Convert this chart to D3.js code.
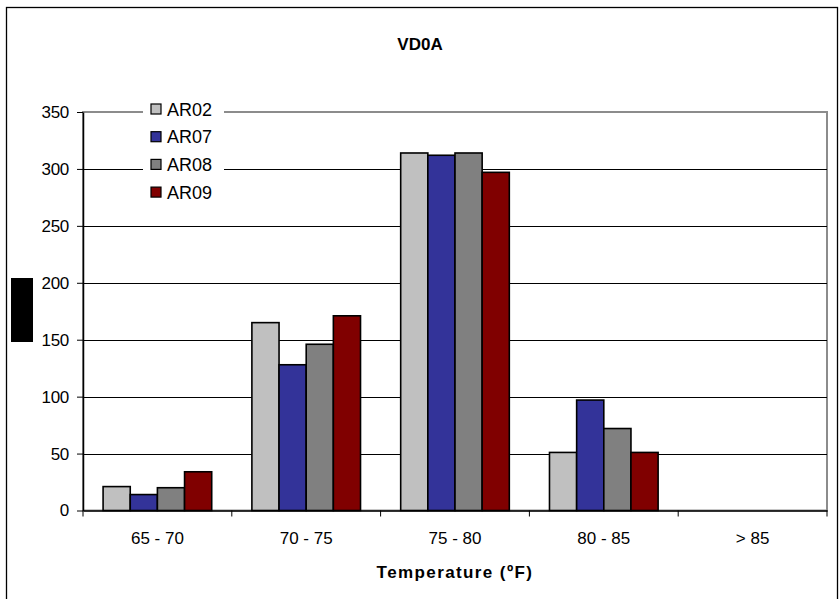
<!DOCTYPE html>
<html>
<head>
<meta charset="utf-8">
<script src="https://cdn.jsdelivr.net/npm/d3@7/dist/d3.min.js"></script>
<style>
  html, body { margin: 0; padding: 0; background: #fff; }
  svg { display: block; font-family: "Liberation Sans", Arial, sans-serif; }
</style>
</head>
<body>
<svg id="chart" width="840" height="599"></svg>
<script>
// Temperature bins (x-axis categories)
const categories = ["65 - 70", "70 - 75", "75 - 80", "80 - 85", "> 85"];
// Sensor series
const seriesNames = ["AR02", "AR07", "AR08", "AR09"];
const seriesColors = ["#C0C0C0", "#333399", "#808080", "#800000"];
// Counts per bin for each sensor
const AR02 = [21, 165, 314, 51, 0];
const AR07 = [14, 128, 312, 97, 0];
const AR08 = [20, 146, 314, 72, 0];
const AR09 = [34, 171, 297, 51, 0];
const yTicks = [0, 50, 100, 150, 200, 250, 300, 350];

const seriesValues = [AR02, AR07, AR08, AR09];
const rows = categories.map((c, i) => ({
  cat: c,
  vals: seriesNames.map((s, j) => ({ key: s, value: seriesValues[j][i], color: seriesColors[j] }))
}));

const svg = d3.select("#chart");
const plot = { left: 83, right: 827, top: 112, bottom: 510.5 };

// outer chart frame
svg.append("rect")
  .attr("x", 6.5).attr("y", 7.5).attr("width", 831).attr("height", 600)
  .attr("fill", "#fff").attr("stroke", "#000").attr("stroke-width", 1.3);

const x0 = d3.scaleBand().domain(categories).range([plot.left, plot.right]).padding(0);
const bw = x0.bandwidth();
const x1 = d3.scaleBand().domain(seriesNames).range([bw * 0.135, bw * 0.865]).padding(0);
const y = d3.scaleLinear().domain([0, 350]).range([plot.bottom, plot.top]);

// plot area border (grey)
svg.append("rect")
  .attr("x", plot.left).attr("y", plot.top)
  .attr("width", plot.right - plot.left).attr("height", plot.bottom - plot.top)
  .attr("fill", "none").attr("stroke", "#8c8c8c").attr("stroke-width", 2);

// horizontal gridlines
svg.append("g").selectAll("line")
  .data(yTicks.filter(t => t > 0 && t < 350))
  .join("line")
  .attr("x1", plot.left).attr("x2", plot.right)
  .attr("y1", d => Math.round(y(d)) + 0.5).attr("y2", d => Math.round(y(d)) + 0.5)
  .attr("stroke", "#000").attr("stroke-width", 1);

// bars
const groups = svg.append("g").selectAll("g")
  .data(rows).join("g")
  .attr("transform", d => `translate(${x0(d.cat)},0)`);
groups.selectAll("rect")
  .data(d => d.vals.filter(v => v.value > 0))
  .join("rect")
  .attr("x", d => x1(d.key))
  .attr("y", d => y(d.value))
  .attr("width", x1.bandwidth())
  .attr("height", d => y(0) - y(d.value))
  .attr("fill", d => d.color)
  .attr("stroke", "#000").attr("stroke-width", 1.6);

// y axis
const yAxis = svg.append("g")
  .attr("transform", `translate(${plot.left},0)`)
  .call(d3.axisLeft(y).tickValues(yTicks).tickSize(6).tickPadding(8).tickSizeOuter(0));
yAxis.select(".domain").attr("stroke", "#000").attr("stroke-width", 1.5);
yAxis.selectAll(".tick line").attr("stroke", "#000");
yAxis.selectAll("text")
  .attr("font-size", 17).attr("fill", "#000").attr("letter-spacing", -0.3)
  .style("font-family", "'Liberation Sans', Arial, sans-serif");

// x axis
const xAxis = svg.append("g")
  .attr("transform", `translate(0,${plot.bottom})`)
  .call(d3.axisBottom(x0).tickSize(0).tickPadding(21));
xAxis.select(".domain").attr("stroke", "#000").attr("stroke-width", 1.5);
xAxis.selectAll("text")
  .attr("font-size", 17).attr("fill", "#000")
  .style("font-family", "'Liberation Sans', Arial, sans-serif");
// category separator ticks
svg.append("g").selectAll("line")
  .data(categories.concat([null]))
  .join("line")
  .attr("x1", (d, i) => i < categories.length ? x0(d) : plot.right)
  .attr("x2", (d, i) => i < categories.length ? x0(d) : plot.right)
  .attr("y1", plot.bottom).attr("y2", plot.bottom + 6)
  .attr("stroke", "#000").attr("stroke-width", 1);

// legend (white box over grid)
const legend = svg.append("g").attr("transform", "translate(143,96)");
legend.append("rect").attr("width", 81).attr("height", 108).attr("fill", "#fff");
seriesNames.forEach((s, i) => {
  const g = legend.append("g").attr("transform", `translate(8,${13 + i * 27.7})`);
  g.append("rect").attr("x", 0).attr("y", -5).attr("width", 10).attr("height", 10)
    .attr("fill", seriesColors[i]).attr("stroke", "#000").attr("stroke-width", 1.2);
  g.append("text").attr("x", 16).attr("y", 6.5)
    .attr("font-size", 18).attr("fill", "#000").text(s);
});

// title
svg.append("text")
  .attr("x", 420).attr("y", 50).attr("text-anchor", "middle")
  .attr("font-size", 17).attr("font-weight", "bold").text("VD0A");

// x axis title
svg.append("text")
  .attr("x", 455).attr("y", 578).attr("text-anchor", "middle")
  .attr("font-size", 17).attr("font-weight", "bold")
  .attr("letter-spacing", 1.4).text("Temperature (ºF)");

// y axis title block
svg.append("rect")
  .attr("x", 11).attr("y", 278).attr("width", 22).attr("height", 64)
  .attr("fill", "#000");
</script>
</body>
</html>
